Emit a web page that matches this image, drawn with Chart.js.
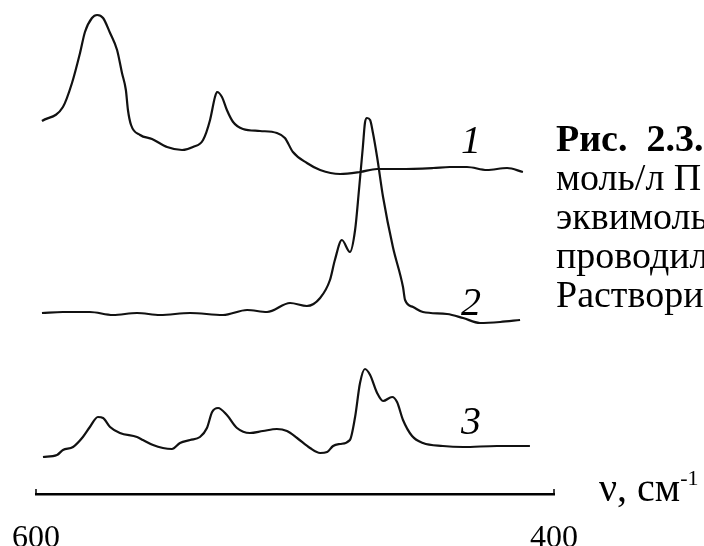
<!DOCTYPE html>
<html>
<head>
<meta charset="utf-8">
<script src="https://cdn.jsdelivr.net/npm/chart.js@4/dist/chart.umd.min.js"></script>
<style>
  body { margin: 0; width: 704px; height: 546px; overflow: hidden; background: #fff; }
  #wrap { position: relative; width: 704px; height: 546px; overflow: hidden; }
  .cap { position: absolute; left: 556px; font-family: "Liberation Serif", serif; font-size: 38px; line-height: 39px; color: #000; white-space: nowrap; }
  .unit { position: absolute; left: 599px; top: 468px; font-family: "Liberation Serif", serif; font-size: 40px; line-height: 40px; white-space: nowrap; }
  .unit sup { font-size: 22px; vertical-align: 16px; line-height: 0; }
</style>
</head>
<body>
<div id="wrap">
  <canvas id="spectra" width="704" height="546"></canvas>
  <div class="cap" style="top:119px"><b>Рис.&nbsp; 2.3.</b></div>
  <div class="cap" style="top:158px">моль/л П</div>
  <div class="cap" style="top:197px">эквимоль</div>
  <div class="cap" style="top:236px">проводил</div>
  <div class="cap" style="top:275px">Раствори</div>
  <div class="unit">ν, см<sup>-1</sup></div>
</div>
<script>
// wavenumbers (cm-1) and intensities (arbitrary units, curves stacked)
const nu1 = [597.7, 589.6, 586.1, 583.0, 581.1, 578.4, 576.4, 574.1, 571.4, 568.7, 566.8, 565.3, 564.5, 563.3,
  559.8, 555.2, 549.4, 543.6, 539.4, 535.5, 532.8, 530.9, 530.1, 528.2, 526.3, 523.9, 520.1, 513.5, 507.0,
  503.9, 500.8, 495.4, 490.3, 482.6, 474.9, 468.3, 459.5, 446.7, 440.2, 433.6, 425.9, 418.1, 412.0];
const int1 = [373, 387, 411, 441, 462, 476, 479, 476, 461, 444, 421, 404, 384, 369,
  359, 355, 347, 344, 347, 354, 374, 397, 402, 397, 384, 372, 365, 363, 361,
  356, 342, 331, 324, 320, 322, 325, 325, 326, 327, 327, 324, 326, 322];

const nu2 = [597.7, 589.6, 579.2, 570.3, 561.0, 552.1, 540.5, 527.8, 518.5, 510.8, 501.9, 495.4, 490.3, 486.5,
  484.6, 481.9, 478.8, 476.8, 475.3, 473.8, 473.0, 472.2, 471.0, 469.9, 468.3, 466.0, 462.2, 458.3, 457.5,
  454.4, 450.6, 441.3, 435.1, 428.6, 420.8, 413.1];
const int2 = [181, 182, 182, 179, 181, 179, 181, 179, 184, 182, 191, 188, 196, 214,
  234, 254, 242, 264, 304, 347, 371, 376, 374, 361, 337, 297, 247, 207, 194,
  187, 182, 180, 176, 171, 172, 174];

const nu3 = [597.3, 591.9, 589.6, 585.7, 581.9, 579.2, 576.1, 574.1, 571.4, 567.6, 561.0, 558.7, 554.8, 551.0,
  547.5, 544.4, 540.5, 536.7, 534.0, 532.0, 529.7, 526.3, 522.4, 517.4, 512.4, 507.0, 503.1, 499.2, 494.2,
  490.3, 487.6, 485.3, 482.6, 478.8, 476.8, 474.9, 473.0, 471.0, 468.3, 466.0, 462.5, 460.6, 458.3, 454.8,
  450.6, 442.9, 435.1, 422.0, 409.3];
const int3 = [37, 39, 44, 47, 57, 67, 77, 76, 67, 61, 57, 54, 49, 46,
  45, 51, 54, 57, 66, 82, 86, 79, 66, 61, 63, 65, 63, 56, 46,
  41, 42, 48, 50, 54, 77, 111, 125, 119, 101, 93, 97, 92, 74, 58,
  51, 48, 47, 48, 48];

const xTicks = [600, 400];
const curveNames = ['1', '2', '3'];
const labelPos = [[432, 341], [432, 179], [432, 60]];

const toPts = (xs, ys) => xs.map((x, i) => ({ x: x, y: ys[i] }));

const lineStyle = {
  borderColor: '#111',
  borderWidth: 2.2,
  pointRadius: 0,
  fill: false,
  cubicInterpolationMode: 'monotone'
};

// curve numbers and the little end marks of the axis
const extras = {
  id: 'extras',
  afterDraw(chart) {
    const ctx = chart.ctx;
    const xs = chart.scales.x, ys = chart.scales.y;
    ctx.save();
    ctx.fillStyle = '#000';
    ctx.font = 'italic 40px "Liberation Serif"';
    ctx.textAlign = 'center';
    ctx.textBaseline = 'alphabetic';
    curveNames.forEach((n, i) => {
      ctx.fillText(n, xs.getPixelForValue(labelPos[i][0]), ys.getPixelForValue(labelPos[i][1]));
    });
    ctx.strokeStyle = '#000';
    ctx.lineWidth = 1.5;
    xTicks.forEach(v => {
      const px = Math.round(xs.getPixelForValue(v));
      ctx.beginPath();
      ctx.moveTo(px, chart.chartArea.bottom);
      ctx.lineTo(px, chart.chartArea.bottom - 5);
      ctx.stroke();
    });
    ctx.restore();
  }
};

new Chart(document.getElementById('spectra'), {
  type: 'line',
  data: {
    datasets: [
      Object.assign({ label: '1', data: toPts(nu1, int1) }, lineStyle),
      Object.assign({ label: '2', data: toPts(nu2, int2) }, lineStyle),
      Object.assign({ label: '3', data: toPts(nu3, int3) }, lineStyle)
    ]
  },
  options: {
    responsive: false,
    animation: false,
    layout: { padding: { left: 36, right: 150, top: 0, bottom: 0 } },
    plugins: { legend: { display: false }, tooltip: { enabled: false } },
    scales: {
      x: {
        type: 'linear',
        reverse: true,
        min: 400,
        max: 600,
        afterBuildTicks: s => { s.ticks = xTicks.map(v => ({ value: v })); },
        afterFit: s => { s.height = 52; },
        grid: { display: false, drawTicks: false },
        border: { display: true, color: '#000', width: 2.5 },
        ticks: {
          autoSkip: false,
          maxRotation: 0,
          padding: 0,
          color: '#000',
          font: { family: 'Liberation Serif', size: 32, lineHeight: 2.76 }
        }
      },
      y: {
        display: false,
        min: 0,
        max: 494
      }
    }
  },
  plugins: [extras]
});
</script>
</body>
</html>
